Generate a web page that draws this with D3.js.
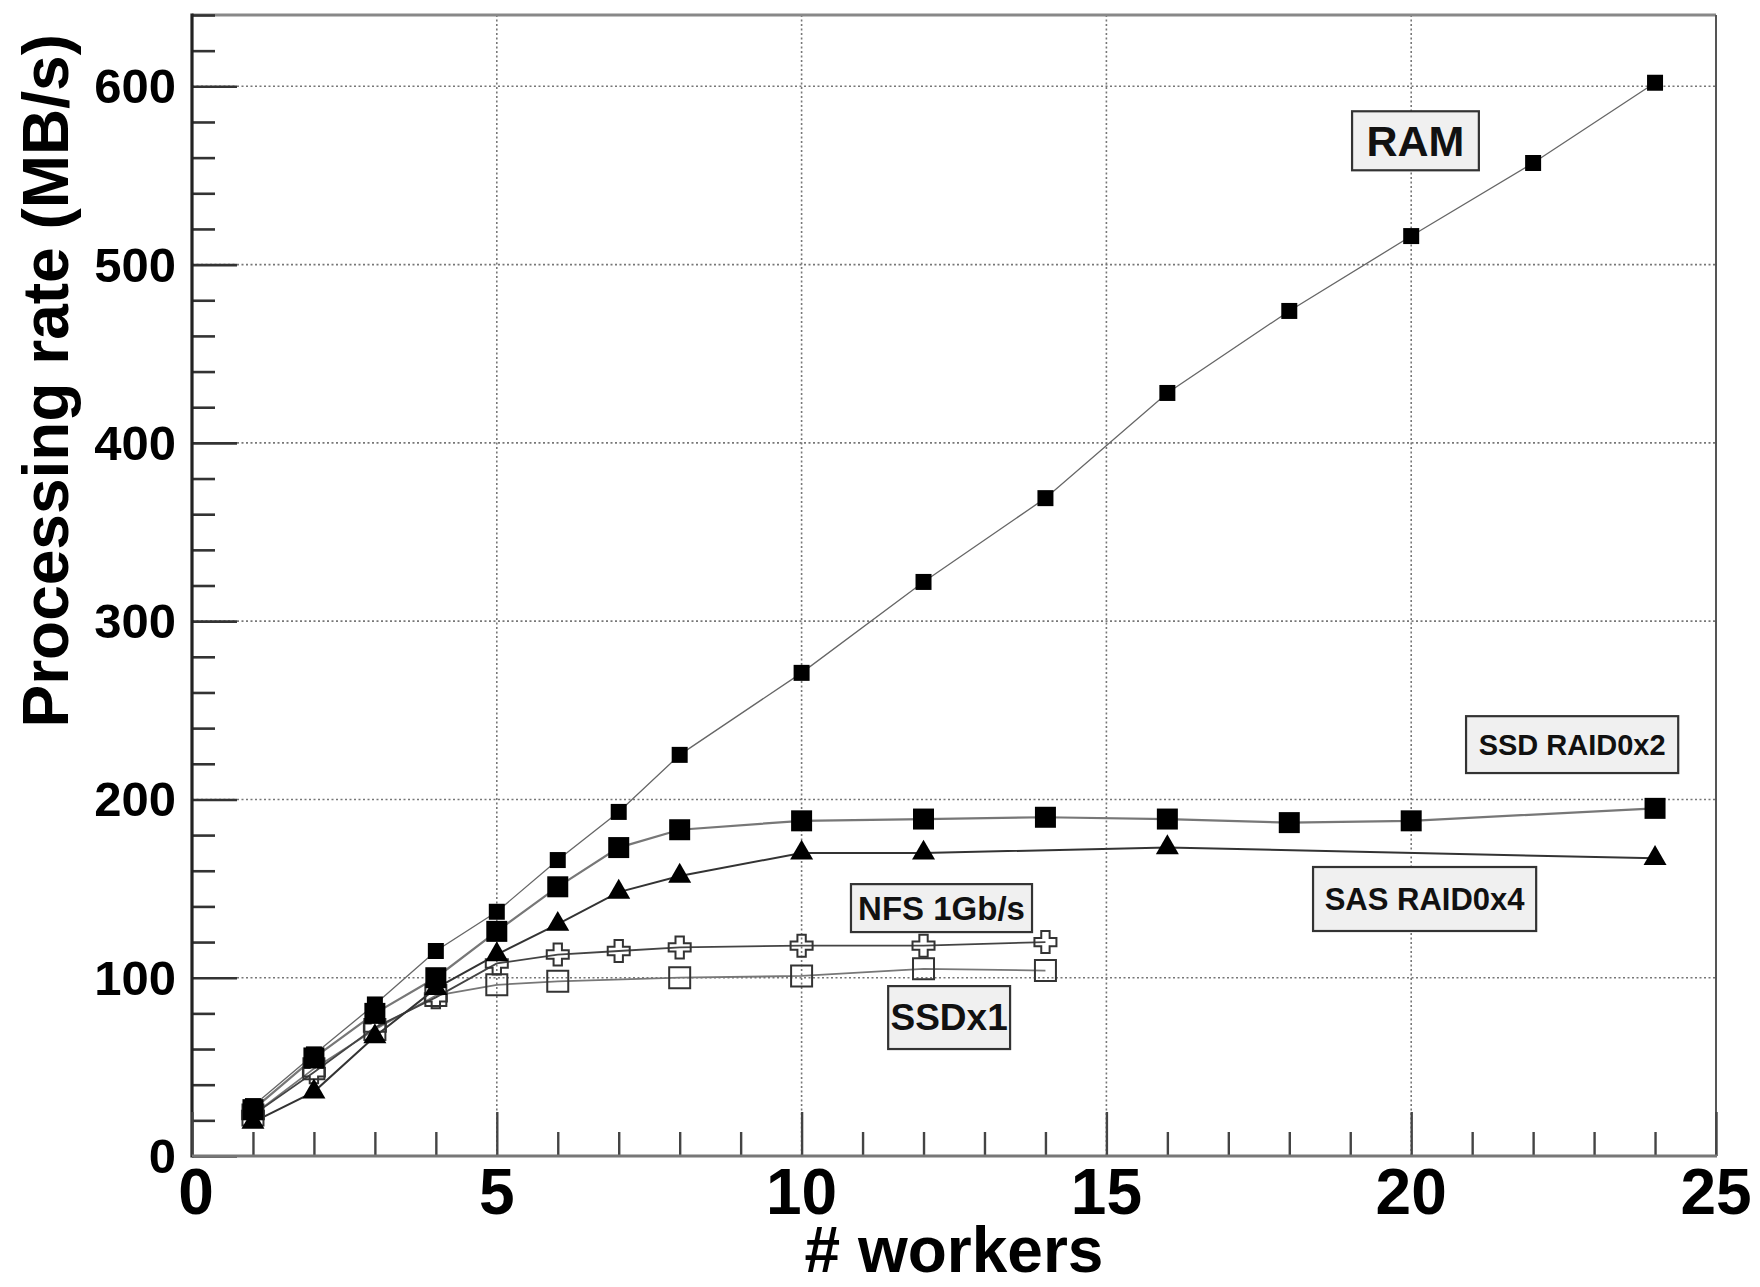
<!DOCTYPE html>
<html>
<head>
<meta charset="utf-8">
<script src="https://cdn.jsdelivr.net/npm/d3@7/dist/d3.min.js"></script>
<style>
  body { margin: 0; background: #fff; }
  svg { display: block; font-family: "Liberation Sans", Arial, Helvetica, sans-serif; font-weight: bold; }
</style>
</head>
<body>
<div id="chart"></div>
<script>
// values (workers -> MB/s)
const ramWorkers = [1, 2, 3, 4, 5, 6, 7, 8, 10, 12, 14, 16, 18, 20, 22, 24];
const ramRate = [28, 57, 85, 115, 137, 166, 193, 225, 271, 322, 369, 428, 474, 516, 557, 602];

const ssd2Workers = [1, 2, 3, 4, 5, 6, 7, 8, 10, 12, 14, 16, 18, 20, 24];
const ssd2Rate = [26, 55, 80, 100, 126, 151, 173, 183, 188, 189, 190, 189, 187, 188, 195];

const sasWorkers = [1, 2, 3, 4, 5, 6, 7, 8, 10, 12, 16, 24];
const sasRate = [19, 36, 67, 94, 113, 130, 148, 157, 170, 170, 173, 167];

const nfsWorkers = [1, 2, 3, 4, 5, 6, 7, 8, 10, 12, 14];
const nfsRate = [23, 47, 72, 89, 108, 113, 115, 117, 118, 118, 120];

const ssd1Workers = [1, 2, 3, 4, 5, 6, 8, 10, 12, 14];
const ssd1Rate = [23, 49, 71, 90, 96, 98, 100, 101, 105, 104];

const xTickLabels = [0, 5, 10, 15, 20, 25];
const yTickLabels = [0, 100, 200, 300, 400, 500, 600];
const labelTexts = ["RAM", "SSD RAID0x2", "SAS RAID0x4", "NFS 1Gb/s", "SSDx1"];

const W = 1760, H = 1287;
const frame = { left: 192, right: 1716, top: 15, bottom: 1156 };

const x = d3.scaleLinear().domain([0, 25]).range([frame.left, frame.right]);
const y = d3.scaleLinear().domain([0, 640]).range([frame.bottom, frame.top]);

const svg = d3.select("#chart").append("svg")
  .attr("width", W).attr("height", H);
svg.append("rect").attr("width", W).attr("height", H).attr("fill", "#fff");

// dotted grid at the major ticks
const grid = svg.append("g");
grid.selectAll(".gx").data(xTickLabels.slice(1, -1)).enter().append("line")
  .attr("x1", d => x(d)).attr("x2", d => x(d))
  .attr("y1", frame.top).attr("y2", frame.bottom)
  .attr("stroke", "#777").attr("stroke-width", 1.6).attr("stroke-dasharray", "2,2.5");
grid.selectAll(".gy").data(yTickLabels.slice(1)).enter().append("line")
  .attr("y1", d => y(d)).attr("y2", d => y(d))
  .attr("x1", frame.left).attr("x2", frame.right)
  .attr("stroke", "#777").attr("stroke-width", 1.6).attr("stroke-dasharray", "2,2.5");

const series = [
  { xs: ssd1Workers, ys: ssd1Rate, marker: "opensquare", size: 21, line: "#777", lw: 1.8 },
  { xs: nfsWorkers, ys: nfsRate, marker: "opencross", size: 22, line: "#444", lw: 1.8 },
  { xs: sasWorkers, ys: sasRate, marker: "triangle", size: 23, line: "#333", lw: 2 },
  { xs: ssd2Workers, ys: ssd2Rate, marker: "square", size: 21, line: "#777", lw: 2.2 },
  { xs: ramWorkers, ys: ramRate, marker: "square", size: 16, line: "#666", lw: 1.3 }
];

const lineGen = d3.line().x(d => x(d[0])).y(d => y(d[1]));

function crossPath(s) {
  const a = s / 2, b = a * 0.38;
  return `M${-b},${-a}H${b}V${-b}H${a}V${b}H${b}V${a}H${-b}V${b}H${-a}V${-b}H${-b}Z`;
}

function markerPath(type, s) {
  if (type === "opencross") return crossPath(s);
  if (type === "triangle") return d3.symbol(d3.symbolTriangle, Math.sqrt(3) / 4 * s * s)();
  return d3.symbol(d3.symbolSquare, s * s)();
}

series.forEach(sr => {
  const pts = sr.xs.map((v, i) => [v, sr.ys[i]]);
  svg.append("path").datum(pts)
    .attr("d", lineGen)
    .attr("fill", "none").attr("stroke", sr.line).attr("stroke-width", sr.lw);
});

series.forEach(sr => {
  const pts = sr.xs.map((v, i) => [v, sr.ys[i]]);
  const open = sr.marker.startsWith("open");
  svg.append("g").selectAll("path").data(pts).enter().append("path")
    .attr("transform", d => `translate(${x(d[0])},${y(d[1])})`)
    .attr("d", markerPath(sr.marker, sr.size))
    .attr("fill", open ? "none" : "#000")
    .attr("stroke", open ? "#333" : "none")
    .attr("stroke-width", open ? 2 : 0);
});

// annotation boxes, corners given in data units
const boxes = [
  { x0: 19.03, x1: 21.11, y0: 552.9, y1: 586.0, fs: 43 },
  { x0: 20.90, x1: 24.38, y0: 214.8, y1: 246.7, fs: 29 },
  { x0: 18.39, x1: 22.05, y0: 126.2, y1: 162.1, fs: 31 },
  { x0: 10.81, x1: 13.78, y0: 125.6, y1: 152.5, fs: 33 },
  { x0: 11.42, x1: 13.42, y0: 60.0, y1: 95.3, fs: 37 }
];

const lab = svg.append("g").selectAll("g").data(boxes).enter().append("g");
lab.append("rect")
  .attr("x", d => x(d.x0)).attr("y", d => y(d.y1))
  .attr("width", d => x(d.x1) - x(d.x0)).attr("height", d => y(d.y0) - y(d.y1))
  .attr("fill", "#f0f0f0").attr("stroke", "#333").attr("stroke-width", 2.2);
lab.append("text")
  .attr("x", d => (x(d.x0) + x(d.x1)) / 2)
  .attr("y", d => (y(d.y0) + y(d.y1)) / 2)
  .attr("text-anchor", "middle").attr("dominant-baseline", "central")
  .attr("font-size", d => d.fs).attr("fill", "#111")
  .text((d, i) => labelTexts[i]);

// frame
svg.append("line").attr("x1", frame.left).attr("x2", frame.right).attr("y1", frame.top).attr("y2", frame.top)
  .attr("stroke", "#888").attr("stroke-width", 3);
svg.append("line").attr("x1", frame.right).attr("x2", frame.right).attr("y1", frame.top).attr("y2", frame.bottom)
  .attr("stroke", "#555").attr("stroke-width", 2);

// y axis: ticks point into the plot
const yMinor = d3.range(0, 641, 20).filter(v => v % 100 !== 0);
const yAxisG = svg.append("g").attr("transform", `translate(${frame.left},0)`);
yAxisG.append("g").call(d3.axisRight(y).tickValues(yTickLabels).tickSize(45).tickFormat(""));
yAxisG.append("g").call(d3.axisRight(y).tickValues(yMinor).tickSize(23).tickFormat(""));
yAxisG.selectAll(".domain").remove();
yAxisG.selectAll(".tick line").attr("stroke", "#333").attr("stroke-width", 2.6);
yAxisG.append("line").attr("y1", frame.top - 1.5).attr("y2", frame.bottom + 1.5)
  .attr("stroke", "#222").attr("stroke-width", 3.2);

// x axis: ticks point up
const xMinor = d3.range(0, 26, 1).filter(v => v % 5 !== 0);
const xAxisG = svg.append("g").attr("transform", `translate(0,${frame.bottom})`);
xAxisG.append("g").call(d3.axisTop(x).tickValues(xTickLabels).tickSize(44).tickFormat(""));
xAxisG.append("g").call(d3.axisTop(x).tickValues(xMinor).tickSize(24).tickFormat(""));
xAxisG.selectAll(".domain").remove();
xAxisG.selectAll(".tick line").attr("stroke", "#444").attr("stroke-width", 2.4);
xAxisG.append("line").attr("x1", frame.left).attr("x2", frame.right + 1)
  .attr("stroke", "#777").attr("stroke-width", 3.2);

// tick labels
svg.append("g").selectAll("text").data(yTickLabels).enter().append("text")
  .attr("x", frame.left - 16).attr("y", d => y(d))
  .attr("text-anchor", "end").attr("dominant-baseline", "central")
  .attr("font-size", 49).attr("fill", "#000")
  .text(d => d);

svg.append("g").selectAll("text").data(xTickLabels).enter().append("text")
  .attr("x", d => x(d) + (d === 0 ? 4 : 0)).attr("y", 1214)
  .attr("text-anchor", "middle")
  .attr("font-size", 64).attr("fill", "#000")
  .text(d => d);

// axis titles
svg.append("text")
  .attr("x", (frame.left + frame.right) / 2).attr("y", 1272)
  .attr("text-anchor", "middle").attr("font-size", 64).attr("fill", "#000")
  .text("# workers");

svg.append("text")
  .attr("transform", "rotate(-90)")
  .attr("x", -34).attr("y", 68)
  .attr("text-anchor", "end").attr("font-size", 64).attr("fill", "#000")
  .text("Processing rate (MB/s)");
</script>
</body>
</html>
